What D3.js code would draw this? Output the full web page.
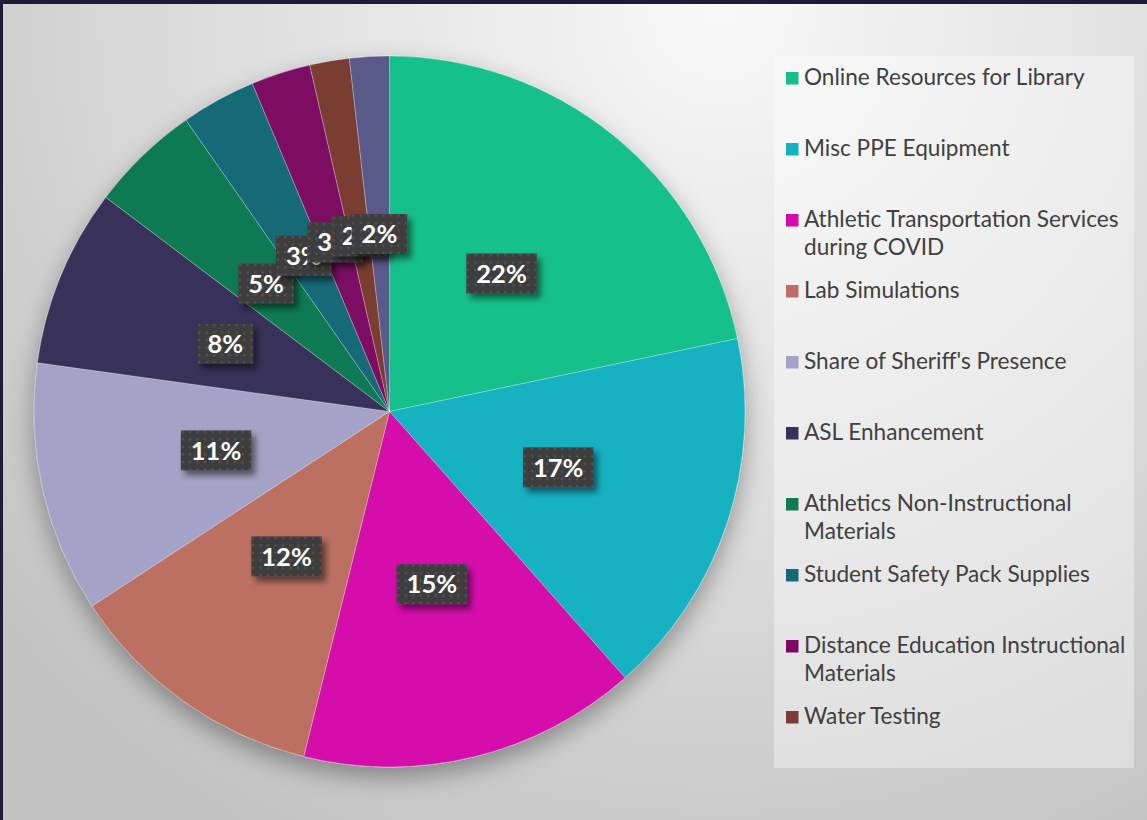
<!DOCTYPE html>
<html><head><meta charset="utf-8">
<script src="https://cdn.jsdelivr.net/npm/d3@7"></script>
<style>html,body{margin:0;padding:0;background:#1d1b36;overflow:hidden}</style>
</head><body>
<svg id="chart" width="1147" height="820"></svg>
<script>
const categories = ["Online Resources for Library","Misc PPE Equipment","Athletic Transportation Services during COVID","Lab Simulations","Share of Sheriff's Presence","ASL Enhancement","Athletics Non-Instructional Materials","Student Safety Pack Supplies","Distance Education Instructional Materials","Water Testing","Other"];
const values = [21.7,16.75,15.4,11.9,11.4,8.1,5.0,3.4,2.7,1.8,1.8];
const labels = ["22%","17%","15%","12%","11%","8%","5%","3%","3%","2%","2%"];
const colors = ["#15c08a","#12b2c2","#d40aab","#bc6f62","#a4a2c6","#37325a","#107a52","#136a77","#7c0a62","#7a3d33","#5a5a8a"];
const legendLines = [["Online Resources for Library"],["Misc PPE Equipment"],["Athletic Transportation Services","during COVID"],["Lab Simulations"],["Share of Sheriff's Presence"],["ASL Enhancement"],["Athletics Non-Instructional","Materials"],["Student Safety Pack Supplies"],["Distance Education Instructional","Materials"],["Water Testing"]];

const svg = d3.select("#chart");
const defs = svg.append("defs");
const rg = defs.append("radialGradient").attr("id","bg").attr("gradientUnits","userSpaceOnUse")
  .attr("cx",720).attr("cy",10).attr("r",950);
rg.append("stop").attr("offset","0").attr("stop-color","#f8f8f8");
rg.append("stop").attr("offset","0.55").attr("stop-color","#dcdcdc");
rg.append("stop").attr("offset","1").attr("stop-color","#c2c2c2");

const sh = defs.append("filter").attr("id","pieShadow").attr("x","-20%").attr("y","-20%").attr("width","140%").attr("height","140%");
sh.append("feDropShadow").attr("dx",0).attr("dy",10).attr("stdDeviation",12).attr("flood-color","#000").attr("flood-opacity",0.35);
const lsh = defs.append("filter").attr("id","lblShadow").attr("x","-30%").attr("y","-30%").attr("width","160%").attr("height","160%");
lsh.append("feDropShadow").attr("dx",4).attr("dy",5).attr("stdDeviation",3).attr("flood-color","#000").attr("flood-opacity",0.5);

const pat = defs.append("pattern").attr("id","dots").attr("patternUnits","userSpaceOnUse").attr("width",7.5).attr("height",7.5);
pat.append("rect").attr("width",7.5).attr("height",7.5).attr("fill","#3e3e3e");
pat.append("rect").attr("x",3).attr("y",3).attr("width",2).attr("height",2).attr("fill","#575757");

svg.append("rect").attr("x",3).attr("y",4).attr("width",1144).attr("height",816).attr("fill","url(#bg)");

// legend box
svg.append("rect").attr("x",774).attr("y",56).attr("width",360).attr("height",712)
  .attr("fill","#ffffff").attr("fill-opacity",0.38);

const cx = 389.5, cy = 411.5, R = 355.5;
const pie = d3.pie().sort(null).value(d=>d);
const arcs = pie(values);
const arc = d3.arc().innerRadius(0).outerRadius(R);

const g = svg.append("g").attr("transform",`translate(${cx},${cy})`);
g.append("g").attr("filter","url(#pieShadow)")
  .selectAll("path").data(arcs).join("path")
  .attr("d",arc).attr("fill",(d,i)=>colors[i])
  .attr("stroke","#ffffff").attr("stroke-opacity",0.35).attr("stroke-width",0.8);

const lblG = g.append("g");
arcs.forEach((d,i)=>{
  const [x,y] = arc.centroid(d);
  const grp = lblG.append("g").attr("transform",`translate(${x},${y})`);
  const t = grp.append("text").attr("text-anchor","middle").attr("dy","0.36em")
    .attr("font-family","Lato, 'Open Sans', sans-serif").attr("font-weight","bold")
    .attr("font-size",25.5).attr("fill","#ffffff").text(labels[i]);
  const w = t.node().getComputedTextLength() + 20;
  grp.insert("rect","text").attr("x",-w/2).attr("y",-20).attr("width",w).attr("height",40)
    .attr("fill","url(#dots)").attr("filter","url(#lblShadow)");
});

// legend
const lg = svg.append("g");
legendLines.forEach((lines,i)=>{
  const base = 85 + 71*i;
  lg.append("rect").attr("x",786).attr("y",base-13).attr("width",12.5).attr("height",12.5).attr("fill",colors[i]);
  const t = lg.append("text").attr("x",804).attr("y",base)
    .attr("font-family","Lato, 'Open Sans', sans-serif").attr("font-size",22.6).attr("fill","#404040");
  lines.forEach((ln,j)=>{
    t.append("tspan").attr("x",804).attr("y",base+28*j).text(ln);
  });
});
</script>
</body></html>
